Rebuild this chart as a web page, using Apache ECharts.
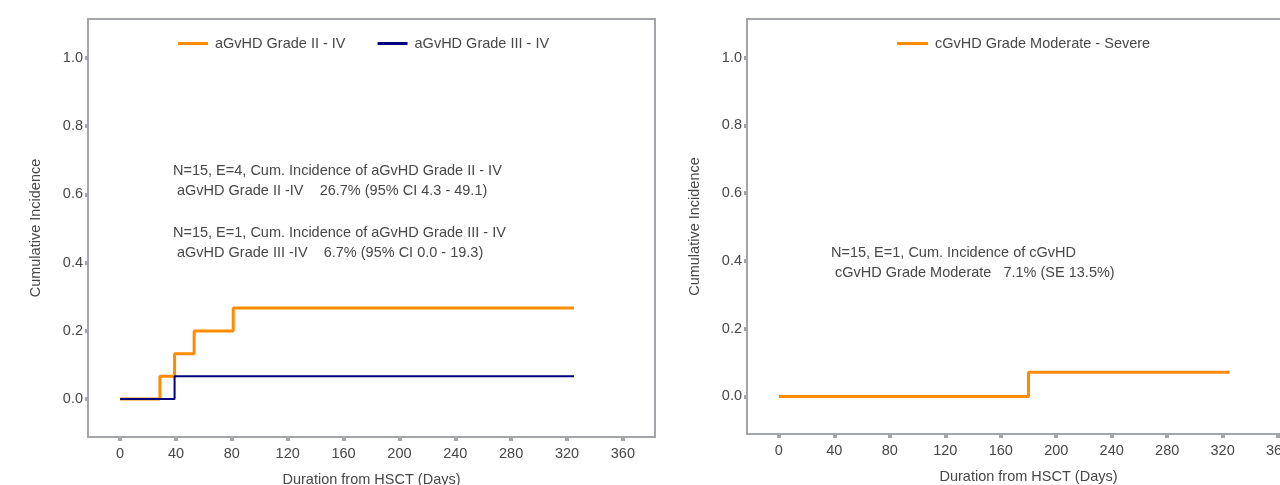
<!DOCTYPE html>
<html>
<head>
<meta charset="utf-8">
<script src="https://cdn.jsdelivr.net/npm/echarts@6/dist/echarts.min.js"></script>
<style>
html,body{margin:0;padding:0;background:#fff;overflow:hidden;width:1280px;height:485px;}
#main{width:1330px;height:485px;}
</style>
</head>
<body>
<div id="main"></div>
<script>
// ---- data ----
const xTicks = [0, 40, 80, 120, 160, 200, 240, 280, 320, 360];
const yTicks = [0, 0.2, 0.4, 0.6, 0.8, 1.0];

const aGvHD2_name = 'aGvHD Grade II - IV';
const aGvHD2_days = [0, 28.5, 39, 53, 81, 325];
const aGvHD2_ci   = [0, 0.0667, 0.1333, 0.2, 0.2667, 0.2667];

const aGvHD3_name = 'aGvHD Grade III - IV';
const aGvHD3_days = [0, 39, 325];
const aGvHD3_ci   = [0, 0.0667, 0.0667];

const cGvHD_name = 'cGvHD Grade Moderate - Severe';
const cGvHD_days = [0, 180, 325];
const cGvHD_ci   = [0, 0.071, 0.071];

const leftNotes = [
  'N=15, E=4, Cum. Incidence of aGvHD Grade II - IV',
  ' aGvHD Grade II -IV    26.7% (95% CI 4.3 - 49.1)',
  'N=15, E=1, Cum. Incidence of aGvHD Grade III - IV',
  ' aGvHD Grade III -IV    6.7% (95% CI 0.0 - 19.3)'
];
const rightNotes = [
  'N=15, E=1, Cum. Incidence of cGvHD',
  ' cGvHD Grade Moderate   7.1% (SE 13.5%)'
];

const xTitle = 'Duration from HSCT (Days)';
const yTitle = 'Cumulative Incidence';

// ---- chart ----
const FONT = 'Liberation Sans, Arial, sans-serif';
const FS = 14.5;
const TXT = '#474747';
const BORDER = '#a2a6aa';
const ORANGE = '#ff8c00';
const NAVY = '#000080';

function pairs(xs, ys){ return xs.map((x,i)=>[x, ys[i]]); }

function xAxisCfg(gi){
  return {
    type:'value', gridIndex:gi, min:-23, max:383,
    name:xTitle, nameLocation:'middle', nameGap:35,
    nameTextStyle:{color:TXT, fontSize:FS, fontFamily:FONT},
    axisLine:{show:false, onZero:false},
    splitLine:{show:false},
    axisTick:{show:true, length:4, inside:false, customValues:xTicks, lineStyle:{color:BORDER, width:4}},
    axisLabel:{customValues:xTicks, color:TXT, fontSize:FS, fontFamily:FONT, margin:9}
  };
}
function yAxisCfg(gi){
  return {
    type:'value', gridIndex:gi, min:-0.111, max:1.114,
    name:yTitle, nameLocation:'middle', nameGap:45, nameRotate:90,
    nameTextStyle:{color:TXT, fontSize:FS, fontFamily:FONT},
    axisLine:{show:false, onZero:false},
    splitLine:{show:false},
    axisTick:{show:true, length:3, customValues:yTicks, lineStyle:{color:BORDER, width:4}},
    axisLabel:{customValues:yTicks, color:TXT, fontSize:FS, fontFamily:FONT, margin:5,
      formatter:v=>v.toFixed(1)}
  };
}

function noteTexts(lines, x, ys){
  return lines.map((t,i)=>({
    type:'text', left:x, top:ys[i],
    style:{text:t, fill:TXT, font:FS + 'px ' + FONT}
  }));
}

const chart = echarts.init(document.getElementById('main'), null, {renderer:'canvas'});
chart.setOption({
  animation:false,
  backgroundColor:'#fff',
  grid:[
    {left:88, top:19, width:567, height:418, show:true, borderColor:BORDER, borderWidth:2,
     backgroundColor:'transparent', containLabel:false, outerBoundsMode:'none'},
    {left:747, top:19, width:563, height:415, show:true, borderColor:BORDER, borderWidth:2,
     backgroundColor:'transparent', containLabel:false, outerBoundsMode:'none'}
  ],
  xAxis:[xAxisCfg(0), xAxisCfg(1)],
  yAxis:[yAxisCfg(0), yAxisCfg(1)],
  legend:[
    {data:[aGvHD2_name, aGvHD3_name], left:173, top:31, itemWidth:30, itemHeight:3, itemGap:32,
     icon:'rect', textStyle:{color:TXT, fontSize:FS, fontFamily:FONT, padding:[0,0,0,2]}},
    {data:[cGvHD_name], left:892, top:31, itemWidth:31, itemHeight:3,
     icon:'rect', textStyle:{color:TXT, fontSize:FS, fontFamily:FONT, padding:[0,0,0,2]}}
  ],
  graphic: [].concat(
    noteTexts(leftNotes, 173, [163, 183, 225, 245]),
    noteTexts(rightNotes, 831, [245, 265])
  ),
  series:[
    {name:aGvHD2_name, type:'line', xAxisIndex:0, yAxisIndex:0, step:'end', showSymbol:false,
     data:pairs(aGvHD2_days, aGvHD2_ci), lineStyle:{color:ORANGE, width:3}, itemStyle:{color:ORANGE}, z:2},
    {name:aGvHD3_name, type:'line', xAxisIndex:0, yAxisIndex:0, step:'end', showSymbol:false,
     data:pairs(aGvHD3_days, aGvHD3_ci), lineStyle:{color:NAVY, width:2}, itemStyle:{color:NAVY}, z:3},
    {name:cGvHD_name, type:'line', xAxisIndex:1, yAxisIndex:1, step:'end', showSymbol:false,
     data:pairs(cGvHD_days, cGvHD_ci), lineStyle:{color:ORANGE, width:3}, itemStyle:{color:ORANGE}}
  ]
});
</script>
</body>
</html>
